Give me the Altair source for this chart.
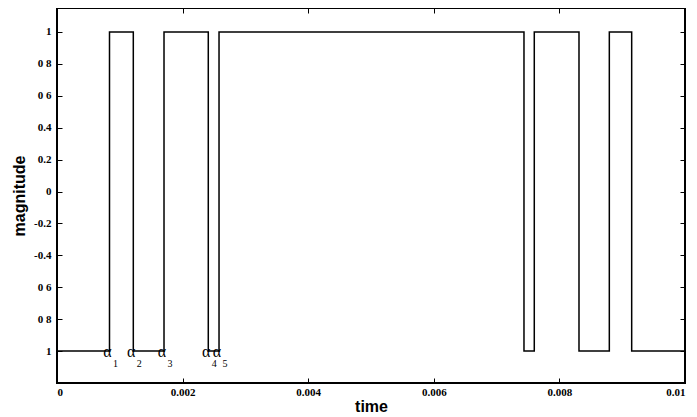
import altair as alt
import pandas as pd

# switching instants (s) and the level the waveform takes after each one
switch_times = [0.000836, 0.001215, 0.001704, 0.002409, 0.00258,
                0.007436, 0.0076, 0.008312, 0.008795, 0.009151]
levels_after = [1, -1, 1, -1, 1, -1, 1, -1, 1, -1]
t_start, t_end = 0.0, 0.01
start_level = -1
end_level = -1

alpha_subscripts = ["1", "2", "3", "4", "5"]
alpha_times = switch_times[:5]

x_ticks = [0, 0.002, 0.004, 0.006, 0.008, 0.01]
y_ticks = [1, 0.8, 0.6, 0.4, 0.2, 0, -0.2, -0.4, -0.6, -0.8, -1]
y_tick_labels = ["1", "0 8", "0 6", "0.4", "0.2", "0", "-0.2", "-0.4", "0 6", "0 8", "1"]

sig = pd.DataFrame({
    "t": [t_start] + switch_times + [t_end],
    "v": [start_level] + levels_after + [end_level],
})
ann = pd.DataFrame({"t": alpha_times, "v": [start_level] * 5,
                    "a": ["\u03b1"] * 5, "s": alpha_subscripts})

# label expression built from the tick arrays
expr = "''"
for val, lab in zip(reversed(y_ticks), reversed(y_tick_labels)):
    expr = f"abs(datum.value - ({val})) < 1e-6 ? '{lab}' : ({expr})"

xs = alt.Scale(domain=[0, 0.01], nice=False, zero=False)
ys = alt.Scale(domain=[-1.2, 1.15], nice=False, zero=False)

lab_font = "Liberation Serif"

main = alt.Chart(sig).mark_line(interpolate="step-after", color="black", strokeWidth=1.5).encode(
    x=alt.X("t:Q", scale=xs, axis=alt.Axis(
        orient="bottom", values=x_ticks, format="~g", offset=-5, tickSize=5, tickColor="black",
        domain=False, grid=False, labelFont=lab_font, labelFontSize=11, labelFontWeight="bold",
        labelColor="black", labelPadding=3, title="time", titleFont="Liberation Sans",
        titleFontSize=16, titleFontWeight="bold", titleColor="black", titlePadding=1)),
    y=alt.Y("v:Q", scale=ys, axis=alt.Axis(
        orient="left", values=y_ticks, labelExpr=expr, offset=-5, tickSize=5, tickColor="black",
        domain=False, grid=False, labelFont=lab_font, labelFontSize=11, labelFontWeight="bold",
        labelColor="black", labelPadding=6, title="magnitude", titleFont="Liberation Sans",
        titleFontSize=16, titleFontWeight="bold", titleColor="black", titlePadding=6)),
)

mirror = alt.Chart(sig).mark_line(interpolate="step-after", strokeOpacity=0).encode(
    x=alt.X("t:Q", scale=xs, axis=alt.Axis(
        orient="top", values=x_ticks, offset=-5, tickSize=5, tickColor="black",
        domain=False, grid=False, labels=False, title=None)),
    y=alt.Y("v:Q", scale=ys, axis=alt.Axis(
        orient="right", values=y_ticks, offset=-5, tickSize=5, tickColor="black",
        domain=False, grid=False, labels=False, title=None)),
)

alpha = alt.Chart(ann).mark_text(font="Liberation Serif", fontSize=16,
                                  color="black", dx=-2, dy=1, baseline="middle").encode(
    x=alt.X("t:Q", scale=xs, axis=None),
    y=alt.Y("v:Q", scale=ys, axis=None),
    text="a:N",
)
subs = alt.Chart(ann).mark_text(font="Liberation Serif", fontSize=10, color="black",
                                 dx=6, dy=13, baseline="middle").encode(
    x=alt.X("t:Q", scale=xs, axis=None),
    y=alt.Y("v:Q", scale=ys, axis=None),
    text="s:N",
)

chart = alt.layer(main, mirror, alpha, subs).resolve_axis(x="independent", y="independent").properties(
    width=628, height=375, autosize=alt.AutoSizeParams(type="none"),
    padding={"left": 49, "top": 0, "right": 4, "bottom": 33},
).configure_view(stroke="black", strokeWidth=2)

chart.save("out.html", embed_options={"renderer": "svg", "actions": False})
